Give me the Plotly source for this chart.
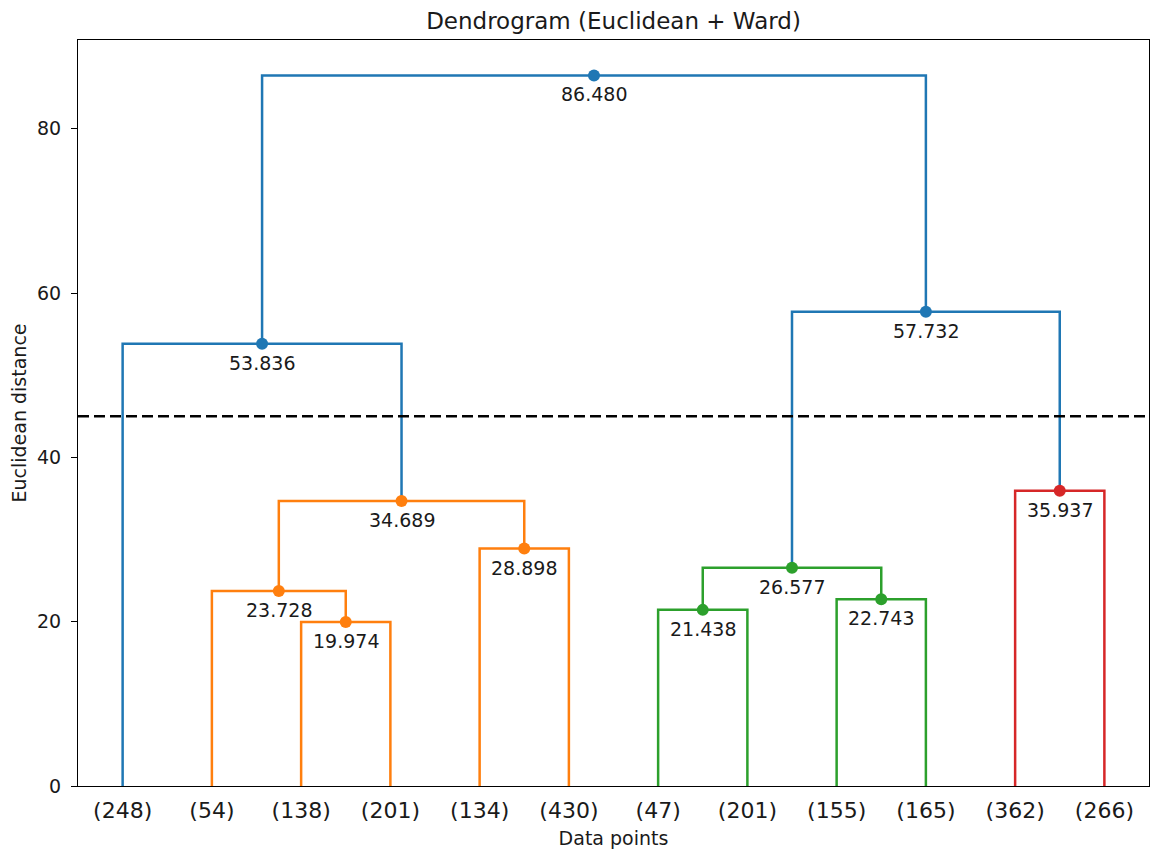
import plotly.graph_objects as go

# ---- data ----
leaf_labels = ["(248)", "(54)", "(138)", "(201)", "(134)", "(430)",
               "(47)", "(201)", "(155)", "(165)", "(362)", "(266)"]
# merges (scipy-style ids: leaves 0..11, merge k -> id 12+k)
merge_left = [2, 1, 4, 13, 0, 6, 8, 17, 10, 19, 16]
merge_right = [3, 12, 5, 14, 15, 7, 9, 18, 11, 20, 21]
merge_heights = [19.974, 23.728, 28.898, 34.689, 53.836,
                 21.438, 22.743, 26.577, 35.937, 57.732, 86.480]
merge_colors = ["#ff7f0e", "#ff7f0e", "#ff7f0e", "#ff7f0e", "#1f77b4",
                "#2ca02c", "#2ca02c", "#2ca02c", "#d62728", "#1f77b4", "#1f77b4"]
cut_height = 45
y_ticks = [0, 20, 40, 60, 80]

# ---- geometry from library scales ----
n = len(leaf_labels)
leaf_x = [5 + 10 * i for i in range(n)]
node_x = list(leaf_x)
node_h = [0.0] * n
for l, r, h in zip(merge_left, merge_right, merge_heights):
    node_x.append((node_x[l] + node_x[r]) / 2)
    node_h.append(h)

FONT = "DejaVu Sans"
TXT = "#1a1a1a"
fig = go.Figure()

for k, (l, r, h, c) in enumerate(zip(merge_left, merge_right, merge_heights, merge_colors)):
    fig.add_trace(go.Scatter(
        x=[node_x[l], node_x[l], node_x[r], node_x[r]],
        y=[node_h[l], h, h, node_h[r]],
        mode="lines", line=dict(color=c, width=2.5),
        showlegend=False, hoverinfo="skip"))

# dots
mx = [node_x[n + k] for k in range(len(merge_heights))]
fig.add_trace(go.Scatter(
    x=mx, y=merge_heights, mode="markers",
    marker=dict(color=merge_colors, size=12, line=dict(width=0)),
    showlegend=False))

# cut line
fig.add_trace(go.Scatter(
    x=[0, 120], y=[cut_height, cut_height], mode="lines",
    line=dict(color="black", width=2.5, dash="11px,5px"),
    showlegend=False, hoverinfo="skip"))

for x, h in zip(mx, merge_heights):
    fig.add_annotation(x=x, y=h, text=f"{h:.3f}", showarrow=False,
                       yanchor="middle", xanchor="center", yshift=-19,
                       font=dict(family=FONT, size=19, color=TXT))

fig.update_layout(
    width=1150, height=853,
    margin=dict(l=78, r=1, t=40, b=67),
    paper_bgcolor="white", plot_bgcolor="white",
    font=dict(family=FONT, color=TXT),
    title=dict(text="Dendrogram (Euclidean + Ward)", x=0.5, xref="paper",
               xanchor="center", y=1 - 21 / 853, yref="container", yanchor="middle",
               font=dict(family=FONT, size=23, color=TXT)),
)
fig.update_xaxes(
    range=[0, 120], tickvals=leaf_x, ticktext=leaf_labels, ticks="",
    tickfont=dict(family=FONT, size=22, color=TXT),
    showgrid=False, zeroline=False, showline=True, mirror=True,
    linecolor="black", linewidth=1, ticklabelstandoff=5,
    title=dict(text="Data points", font=dict(family=FONT, size=19, color=TXT), standoff=9),
    automargin=False)
fig.update_yaxes(
    range=[0, 90.8], tickvals=y_ticks, ticks="outside", ticklen=6, tickcolor="black",
    tickwidth=1, tickfont=dict(family=FONT, size=19, color=TXT),
    showgrid=False, zeroline=False, showline=True, mirror=True,
    linecolor="black", linewidth=1, ticklabelstandoff=6,
    title=dict(text="Euclidean distance", font=dict(family=FONT, size=19, color=TXT), standoff=5),
    automargin=False)

fig.write_html("out.html")
